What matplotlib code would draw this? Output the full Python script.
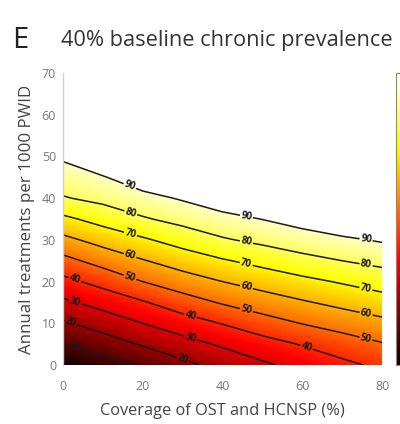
import numpy as np
import matplotlib
matplotlib.use("Agg")
import matplotlib.pyplot as plt
from matplotlib.colors import Normalize

plt.rcParams['font.family'] = ['Open Sans', 'DejaVu Sans']

# Coverage of OST and HCNSP (%) -- grid columns
coverage = [0, 10, 20, 30, 40, 50, 60, 70, 80]
# Annual treatments per 1000 PWID -- grid rows
treatments = [0, 5, 10, 15, 20, 25, 30, 35, 40, 45, 50, 55, 60, 65, 70]
# Reduction in chronic prevalence (%) at each (treatment, coverage) point
reduction = [
    [0.0, 5.5, 11.3, 17.5, 23.2, 28.4, 33.2, 37.7, 42.0],
    [10.0, 15.1, 20.9, 26.3, 31.3, 36.1, 40.6, 45.1, 49.3],
    [18.6, 24.3, 30.0, 35.3, 40.4, 45.8, 50.3, 54.1, 57.5],
    [28.1, 33.6, 39.1, 45.5, 50.9, 55.2, 59.0, 62.5, 65.8],
    [37.3, 43.2, 50.0, 55.5, 60.0, 63.9, 67.5, 70.9, 74.3],
    [47.1, 53.6, 59.4, 64.5, 69.1, 73.0, 77.0, 80.0, 82.7],
    [57.5, 63.5, 68.7, 74.0, 79.0, 82.3, 85.4, 88.3, 91.0],
    [67.9, 73.6, 79.0, 83.1, 86.9, 90.2, 94.0, 98.0, 100.0],
    [79.3, 82.7, 86.9, 91.0, 96.0, 100.0, 100.0, 100.0, 100.0],
    [85.4, 89.3, 96.0, 100.0, 100.0, 100.0, 100.0, 100.0, 100.0],
    [91.5, 99.0, 100.0, 100.0, 100.0, 100.0, 100.0, 100.0, 100.0],
    [100.0, 100.0, 100.0, 100.0, 100.0, 100.0, 100.0, 100.0, 100.0],
    [100.0, 100.0, 100.0, 100.0, 100.0, 100.0, 100.0, 100.0, 100.0],
    [100.0, 100.0, 100.0, 100.0, 100.0, 100.0, 100.0, 100.0, 100.0],
    [100.0, 100.0, 100.0, 100.0, 100.0, 100.0, 100.0, 100.0, 100.0],
]
contour_levels = [10, 20, 30, 40, 50, 60, 70, 80, 90]
x_ticks = [0, 20, 40, 60, 80]
y_ticks = [0, 10, 20, 30, 40, 50, 60, 70]

# where the inline contour labels sit
label_spots = [
    (17, 43.5), (46, 35.5), (76, 30.0),
    (17, 36.5), (46, 29.5), (76, 24.0),
    (17, 31.7), (46, 24.5), (76, 18.5),
    (17, 26.8), (46, 18.7), (76, 12.2),
    (17, 21.6), (46, 13.2), (76, 6.5),
    (3, 20.6), (32, 12.0), (61, 4.0),
    (3, 15.2), (32, 6.5),
    (2, 10.3), (30, 1.2),
    (2.5, 4.2),
]

X, Y = np.meshgrid(coverage, treatments)
Z = np.array(reduction)
norm = Normalize(vmin=0, vmax=96)

fig = plt.figure(figsize=(4.0, 4.24), dpi=100)
ax = fig.add_axes([0.1575, 0.139, 0.7975, 0.689])

fill_levels = np.linspace(0, 90, 181)
cf = ax.contourf(X, Y, Z, levels=fill_levels, cmap='hot', norm=norm)
cs = ax.contour(X, Y, Z, levels=contour_levels, colors='#1a1a1a', linewidths=1.1)
labels = ax.clabel(cs, fmt='%d', fontsize=7, manual=label_spots, inline=True,
                   inline_spacing=1, colors='#1a1a1a')
for t in labels:
    t.set_fontweight('bold')

ax.set_xlim(0, 80)
ax.set_ylim(0, 70)
ax.set_xticks(x_ticks)
ax.set_yticks(y_ticks)
ax.tick_params(length=0, labelsize=9, colors='#777777')
ax.tick_params(axis='x', pad=11)
ax.tick_params(axis='y', pad=5)
for side in ['top', 'right', 'bottom']:
    ax.spines[side].set_visible(False)
ax.spines['left'].set_color('#d0d0d0')
ax.spines['left'].set_linewidth(1.0)

ax.set_xlabel('Coverage of OST and HCNSP (%)', fontsize=11.8, color='#444444',
              labelpad=7)
ax.set_ylabel('Annual treatments per 1000 PWID', fontsize=12.2, color='#444444',
              labelpad=5)

# colour scale bar at the right edge
cax = fig.add_axes([0.99, 0.139, 0.03, 0.689])
sm = plt.cm.ScalarMappable(norm=norm, cmap='hot')
cb = fig.colorbar(sm, cax=cax)
cb.outline.set_edgecolor('#888888')
cb.set_ticks([])

fig.text(0.03, 0.905, 'E', fontsize=21, color='#222222', va='center', ha='left')
fig.text(0.152, 0.905, '40% baseline chronic prevalence', fontsize=15.7,
         color='#333333', va='center', ha='left')

fig.savefig('out.png', dpi=100)
